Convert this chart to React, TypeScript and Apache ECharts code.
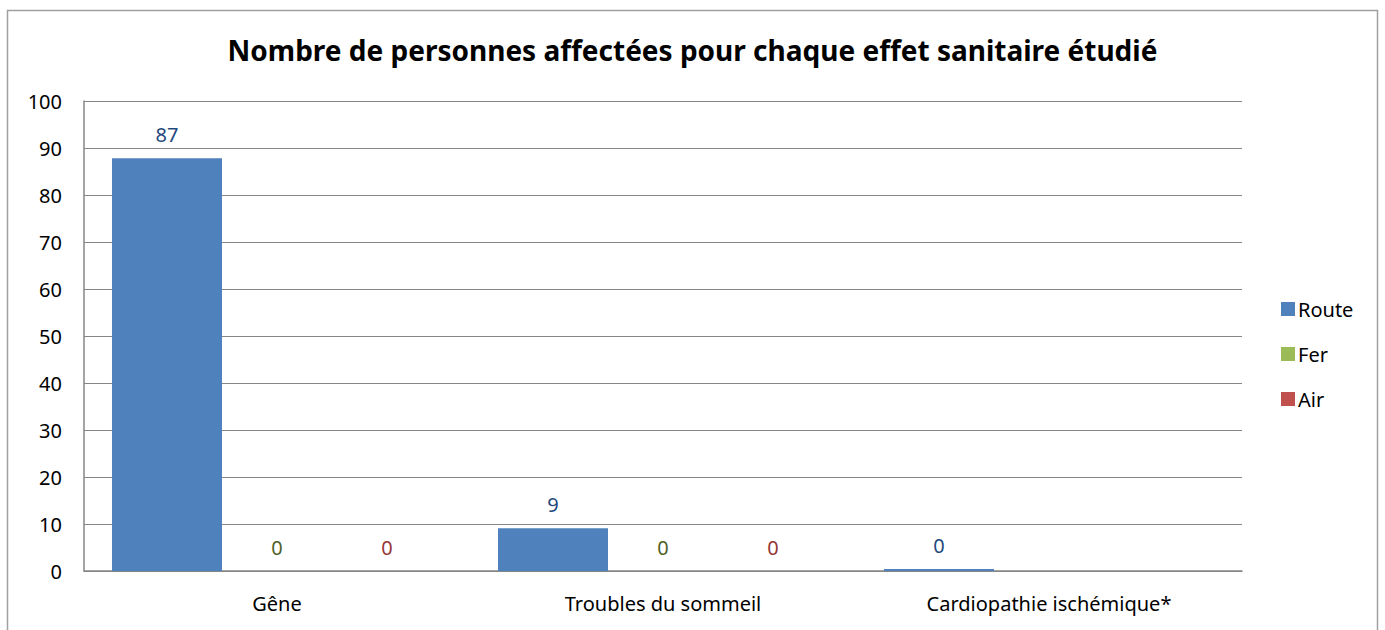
import React, { useEffect, useRef } from "react";
import * as echarts from "echarts";

const titleText = "Nombre de personnes affectées pour chaque effet sanitaire étudié";
const categories = ["Gêne", "Troubles du sommeil", "Cardiopathie ischémique*"];
const routeValues = [87.8, 9.1, 0.4];
const ferValues: (number | null)[] = [0, 0, null];
const airValues: (number | null)[] = [0, 0, null];
const seriesNames = ["Route", "Fer", "Air"];
const barColors = ["#4F81BD", "#9BBB59", "#C0504D"];
const labelColors = ["#1F497D", "#4F6228", "#953735"];

const FONT = "'Noto Sans', 'DejaVu Sans', sans-serif";

export default function App() {
  const ref = useRef<HTMLDivElement>(null);
  useEffect(() => {
    document.body.style.margin = "0";
    if (!ref.current) return;
    const chart = echarts.init(ref.current, null, { renderer: "svg" });
    const allData = [routeValues, ferValues, airValues];
    chart.setOption({
      animation: false,
      backgroundColor: "#ffffff",
      textStyle: { fontFamily: FONT },
      title: {
        text: titleText,
        left: "center",
        top: 31,
        textStyle: { fontFamily: FONT, fontWeight: "bold", fontSize: 28, color: "#000000" },
      },
      legend: {
        orient: "vertical",
        left: 1276,
        top: 294,
        itemWidth: 14,
        itemHeight: 14,
        itemGap: 25,
        icon: "rect",
        data: seriesNames,
        textStyle: { fontFamily: FONT, fontSize: 20, color: "#000000", padding: [0, 0, 0, -2] },
      },
      grid: { left: 84, right: 143, top: 101, bottom: 59, outerBoundsMode: "none", containLabel: false },
      xAxis: {
        type: "category",
        data: categories,
        axisLine: { show: true, lineStyle: { color: "#868686", width: 1.5 } },
        axisTick: { show: false },
        axisLabel: { fontFamily: FONT, fontSize: 20, color: "#000000", margin: 22 },
      },
      yAxis: {
        type: "value",
        min: 0,
        max: 100,
        interval: 10,
        axisLine: { show: true, lineStyle: { color: "#868686", width: 1.5 } },
        axisTick: { show: false },
        splitLine: { show: true, lineStyle: { color: "#868686", width: 1.2 } },
        axisLabel: { fontFamily: FONT, fontSize: 20, color: "#000000", margin: 22 },
      },
      graphic: [
        {
          type: "rect",
          shape: { x: 7.5, y: 10.5, width: 1370, height: 640 },
          style: { fill: "none", stroke: "#a0a0a0", lineWidth: 1.5 },
          silent: true,
          z: -1,
        },
      ],
      series: seriesNames.map((name, i) => ({
        name,
        type: "bar",
        data: allData[i],
        barGap: "0%",
        barCategoryGap: "14.5%",
        itemStyle: { color: barColors[i] },
        label: {
          show: true,
          position: "top",
          distance: 14,
          fontFamily: FONT,
          fontSize: 20,
          color: labelColors[i],
          formatter: (p: any) => (p.value == null ? "" : String(Math.floor(p.value))),
        },
      })),
    });
    return () => chart.dispose();
  }, []);
  return <div ref={ref} style={{ width: 1385, height: 630 }} />;
}
